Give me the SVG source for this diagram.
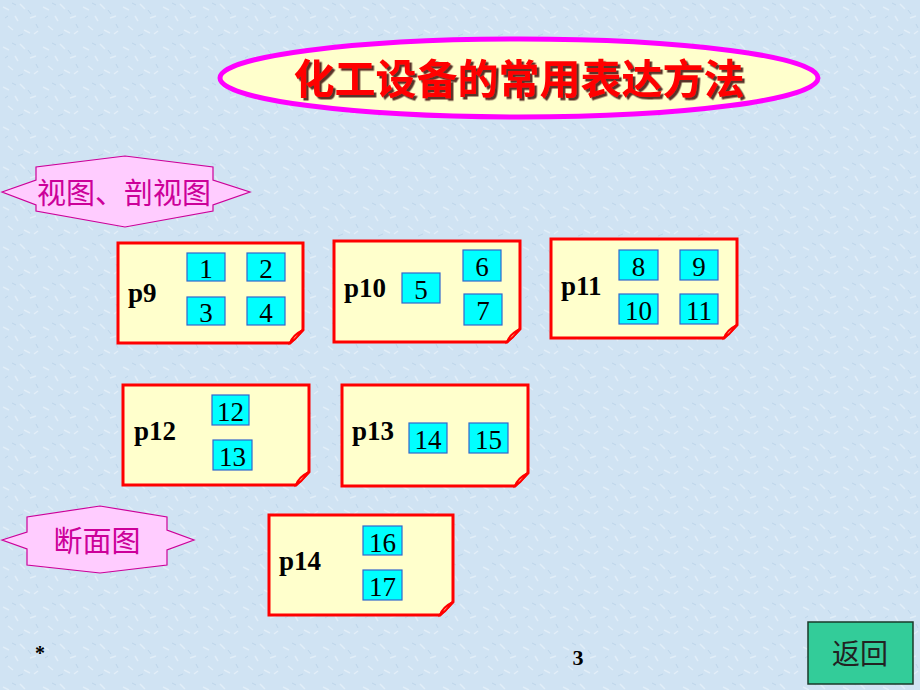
<svg xmlns="http://www.w3.org/2000/svg" width="920" height="690" viewBox="0 0 920 690">
<defs>
<style>
.card{fill:#FFFFCC;stroke:#FF0000;stroke-width:3;stroke-linejoin:miter}
.fold{fill:#FFE6B3;stroke:#FF0000;stroke-width:2}
.box{fill:#00FFFF;stroke:#3366CC;stroke-width:1.2}
.num{font-family:"Liberation Serif",serif;font-size:27px;fill:#000;text-anchor:middle}
.pl{font-family:"Liberation Serif",serif;font-size:27px;font-weight:bold;fill:#000}
.ban{fill:#FFCCFF;stroke:#CC0099;stroke-width:1.2}
.bt{font-family:"Liberation Serif","Noto Sans CJK SC",serif;font-size:29px;fill:#CC0099;text-anchor:middle}
</style>
<filter id="sh" x="-5%" y="-20%" width="110%" height="140%">
<feDropShadow dx="2.5" dy="2.5" stdDeviation="0.6" flood-color="#330000" flood-opacity="0.8"/>
</filter>
<pattern id="tex" width="40" height="40" patternUnits="userSpaceOnUse">
<rect width="40" height="40" fill="#D0E3F3"/>
<path d="M3 7l6 3M20 4l5 5M30 18l6-2M8 26l5 4M24 30l6 3M15 16l3 5M34 34l4-3" stroke="#E2EEF8" stroke-width="1.5" fill="none"/>
<path d="M12 3l4 2M28 10l3 4M5 18l3-2M18 36l5-2M36 24l2 4" stroke="#BDD5EA" stroke-width="1" fill="none"/>
</pattern>
</defs>
<rect width="920" height="690" fill="url(#tex)"/>

<g id="title">
<ellipse cx="519" cy="78" rx="299" ry="39" fill="#FFFFCC" stroke="#FF00FF" stroke-width="5"/>
<text x="519" y="94" font-family="'Noto Sans CJK SC',sans-serif" font-size="41" font-weight="bold" fill="#FF0000" text-anchor="middle" filter="url(#sh)">化工设备的常用表达方法</text>
</g>

<g id="banner1">
<polygon class="ban" points="2,192 36,180 36,167 125,156 213,167 213,180 250,192 213,205 213,211 125,227 36,211 36,205"/>
<text class="bt" x="124" y="204">视图、剖视图</text>
</g>

<g id="banner2">
<polygon class="ban" points="2,540 27,532 27,517 100,506 167,517 167,530 194,540 167,550 167,565 100,573 27,565 27,549"/>
<text class="bt" x="97" y="552">断面图</text>
</g>

<g id="p9">
<path class="card" d="M118 243H303V330L290 343H118Z"/>
<path class="fold" d="M290 343C292 337 297 333 303 330C300 333 298 338 290 343Z"/>
<text class="pl" x="128" y="302">p9</text>
<rect class="box" x="187" y="253" width="38" height="28"/><text class="num" x="206" y="278">1</text>
<rect class="box" x="247" y="253" width="38" height="28"/><text class="num" x="266" y="278">2</text>
<rect class="box" x="187" y="297" width="38" height="28"/><text class="num" x="206" y="322">3</text>
<rect class="box" x="247" y="297" width="38" height="28"/><text class="num" x="266" y="322">4</text>
</g>

<g id="p10">
<path class="card" d="M334 241H520V329L507 342H334Z"/>
<path class="fold" d="M507 342C509 336 514 332 520 329C517 332 515 337 507 342Z"/>
<text class="pl" x="344" y="297">p10</text>
<rect class="box" x="402" y="273" width="38" height="30"/><text class="num" x="421" y="299">5</text>
<rect class="box" x="463" y="250" width="38" height="31"/><text class="num" x="482" y="276">6</text>
<rect class="box" x="464" y="294" width="38" height="31"/><text class="num" x="483" y="320">7</text>
</g>

<g id="p11">
<path class="card" d="M551 239H737V325L724 338H551Z"/>
<path class="fold" d="M724 338C726 332 731 328 737 325C734 328 732 333 724 338Z"/>
<text class="pl" x="561" y="295">p11</text>
<rect class="box" x="619" y="250" width="39" height="30"/><text class="num" x="638.5" y="276">8</text>
<rect class="box" x="680" y="250" width="38" height="30"/><text class="num" x="699" y="276">9</text>
<rect class="box" x="619" y="294" width="39" height="30"/><text class="num" x="638.5" y="320">10</text>
<rect class="box" x="680" y="294" width="38" height="30"/><text class="num" x="699" y="320">11</text>
</g>

<g id="p12">
<path class="card" d="M123 385H309V472L296 485H123Z"/>
<path class="fold" d="M296 485C298 479 303 475 309 472C306 475 304 480 296 485Z"/>
<text class="pl" x="134" y="440">p12</text>
<rect class="box" x="212" y="395" width="37" height="30"/><text class="num" x="230.5" y="421">12</text>
<rect class="box" x="213" y="440" width="39" height="30"/><text class="num" x="232.5" y="466">13</text>
</g>

<g id="p13">
<path class="card" d="M342 385H528V473L515 486H342Z"/>
<path class="fold" d="M515 486C517 480 522 476 528 473C525 476 523 481 515 486Z"/>
<text class="pl" x="352" y="440">p13</text>
<rect class="box" x="409" y="423" width="38" height="30"/><text class="num" x="428" y="449">14</text>
<rect class="box" x="469" y="423" width="39" height="30"/><text class="num" x="488.5" y="449">15</text>
</g>

<g id="p14">
<path class="card" d="M269 515H453V602L440 615H269Z"/>
<path class="fold" d="M440 615C442 609 447 605 453 602C450 605 448 610 440 615Z"/>
<text class="pl" x="279" y="570">p14</text>
<rect class="box" x="363" y="526" width="39" height="29"/><text class="num" x="382.5" y="552">16</text>
<rect class="box" x="363" y="570" width="39" height="30"/><text class="num" x="382.5" y="596">17</text>
</g>

<g id="footer">
<text x="40" y="660" font-family="'Liberation Serif',serif" font-size="20" font-weight="bold" fill="#000" text-anchor="middle">*</text>
<text x="578" y="665" font-family="'Liberation Serif',serif" font-size="22" font-weight="bold" fill="#000" text-anchor="middle">3</text>
</g>

<g id="back">
<rect x="808" y="622" width="105" height="62" fill="#33CC99" stroke="#1A3A2A" stroke-width="1.5"/>
<text x="860" y="664" font-family="'Liberation Serif','Noto Sans CJK SC',serif" font-size="28" fill="#222" text-anchor="middle">返回</text>
</g>

<g id="connectors"></g>
</svg>
